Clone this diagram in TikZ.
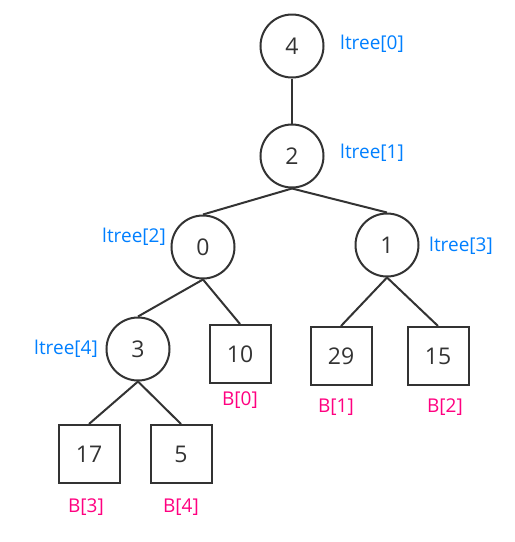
\documentclass[tikz,border=0pt]{standalone}
\usepackage{fontspec}
\setmainfont{Open Sans}
\definecolor{lineC}{RGB}{51,51,51}
\definecolor{blueC}{RGB}{0,127,255}
\definecolor{pinkC}{RGB}{255,0,128}
\begin{document}
\begin{tikzpicture}[x=1pt,y=-1pt,
  cnode/.style={circle,draw=lineC,line width=2pt,minimum size=63pt,inner sep=0pt,font=\fontsize{23}{27}\selectfont,text=lineC},
  bnode/.style={rectangle,draw=lineC,line width=2pt,minimum width=61pt,minimum height=58pt,inner sep=0pt,font=\fontsize{23}{27}\selectfont,text=lineC},
  tlab/.style={font=\fontsize{19}{23}\selectfont,text=blueC,inner sep=0pt},
  blab/.style={font=\fontsize{19}{23}\selectfont,text=pinkC,inner sep=0pt},
  edge/.style={draw=lineC,line width=2pt}]
\useasboundingbox (0,0) rectangle (515,542);
\node[cnode] (n4) at (292,46) {4};
\node[cnode] (n2) at (292,156) {2};
\node[cnode] (n0) at (203,247) {0};
\node[cnode] (n1) at (387,245) {1};
\node[cnode] (n3) at (138,349) {3};
\node[bnode] (b10) at (240,354) {10};
\node[bnode] (b29) at (341,356) {29};
\node[bnode] (b15) at (438,356) {15};
\node[bnode] (b17) at (89,454) {17};
\node[bnode] (b5) at (181,454) {5};
\draw[edge] (n4.south) -- (n2.north);
\draw[edge] (n2.south) -- (n0.north);
\draw[edge] (n2.south) -- (n1.north);
\draw[edge] (n0.south) -- (n3.north);
\draw[edge] (n0.south) -- (b10.north);
\draw[edge] (n1.south) -- (b29.north);
\draw[edge] (n1.south) -- (b15.north);
\draw[edge] (n3.south) -- (b17.north);
\draw[edge] (n3.south) -- (b5.north);
\node[tlab] (l0) at (372,44) {ltree[0]};
\node[tlab] (l1) at (372,153) {ltree[1]};
\node[tlab] (l2) at (134,237) {ltree[2]};
\node[tlab] (l3) at (461,246) {ltree[3]};
\node[tlab] (l4) at (66,349) {ltree[4]};
\node[blab] (bl0) at (240,400) {B[0]};
\node[blab] (bl1) at (336,407) {B[1]};
\node[blab] (bl2) at (445,407) {B[2]};
\node[blab] (bl3) at (86,507) {B[3]};
\node[blab] (bl4) at (181,507) {B[4]};
\end{tikzpicture}
\end{document}
